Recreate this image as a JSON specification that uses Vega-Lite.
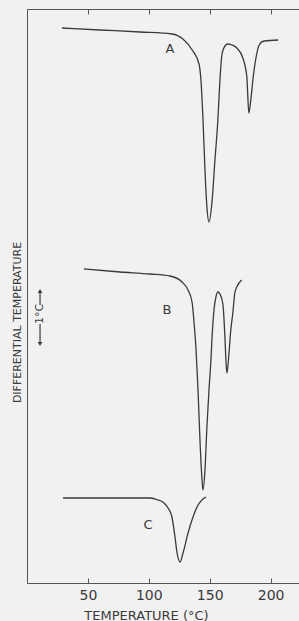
{
  "$schema": "https://vega.github.io/schema/vega-lite/v6.json",
  "width": 272,
  "height": 574,
  "autosize": "none",
  "padding": {"left": 27, "top": 9, "right": 0, "bottom": 38},
  "background": "#f1f1f1",
  "config": {
    "view": {"stroke": null},
    "font": "DejaVu Sans",
    "axis": {"grid": false, "domainColor": "#555", "tickColor": "#555", "labelColor": "#3a3a3a", "titleColor": "#3a3a3a", "titleFontWeight": "normal", "labelFont": "DejaVu Sans", "titleFont": "DejaVu Sans"}
  },
  "datasets": {
    "curves": [
      {"curve": "A", "T": 28.7, "dT": 555}, {"curve": "A", "T": 59.9, "dT": 553}, {"curve": "A", "T": 92.8, "dT": 551}, {"curve": "A", "T": 119.0, "dT": 549},
      {"curve": "A", "T": 128.0, "dT": 544}, {"curve": "A", "T": 136.2, "dT": 532}, {"curve": "A", "T": 141.2, "dT": 519}, {"curve": "A", "T": 142.8, "dT": 503},
      {"curve": "A", "T": 144.5, "dT": 463}, {"curve": "A", "T": 146.1, "dT": 413}, {"curve": "A", "T": 147.7, "dT": 376}, {"curve": "A", "T": 149.4, "dT": 361},
      {"curve": "A", "T": 151.8, "dT": 380}, {"curve": "A", "T": 154.3, "dT": 423}, {"curve": "A", "T": 156.7, "dT": 463}, {"curve": "A", "T": 158.4, "dT": 503},
      {"curve": "A", "T": 160.0, "dT": 528}, {"curve": "A", "T": 162.5, "dT": 537}, {"curve": "A", "T": 164.9, "dT": 539}, {"curve": "A", "T": 168.2, "dT": 538},
      {"curve": "A", "T": 172.3, "dT": 535}, {"curve": "A", "T": 177.2, "dT": 525}, {"curve": "A", "T": 180.5, "dT": 506}, {"curve": "A", "T": 181.3, "dT": 486},
      {"curve": "A", "T": 182.1, "dT": 470}, {"curve": "A", "T": 184.0, "dT": 486}, {"curve": "A", "T": 185.7, "dT": 506}, {"curve": "A", "T": 188.1, "dT": 526},
      {"curve": "A", "T": 190.6, "dT": 538}, {"curve": "A", "T": 194.7, "dT": 542}, {"curve": "A", "T": 206.2, "dT": 543},
      {"curve": "B", "T": 46.8, "dT": 314}, {"curve": "B", "T": 76.4, "dT": 311}, {"curve": "B", "T": 101.0, "dT": 309}, {"curve": "B", "T": 117.4, "dT": 307},
      {"curve": "B", "T": 127.3, "dT": 301}, {"curve": "B", "T": 132.2, "dT": 293}, {"curve": "B", "T": 135.5, "dT": 281}, {"curve": "B", "T": 137.1, "dT": 261},
      {"curve": "B", "T": 138.8, "dT": 233}, {"curve": "B", "T": 140.4, "dT": 193}, {"curve": "B", "T": 142.0, "dT": 143}, {"curve": "B", "T": 143.7, "dT": 103},
      {"curve": "B", "T": 144.5, "dT": 93}, {"curve": "B", "T": 146.1, "dT": 113}, {"curve": "B", "T": 147.7, "dT": 156}, {"curve": "B", "T": 149.4, "dT": 193},
      {"curve": "B", "T": 151.0, "dT": 223}, {"curve": "B", "T": 151.8, "dT": 243}, {"curve": "B", "T": 153.5, "dT": 273}, {"curve": "B", "T": 155.1, "dT": 286},
      {"curve": "B", "T": 156.7, "dT": 291}, {"curve": "B", "T": 158.4, "dT": 289}, {"curve": "B", "T": 160.8, "dT": 279}, {"curve": "B", "T": 162.4, "dT": 248},
      {"curve": "B", "T": 163.3, "dT": 223}, {"curve": "B", "T": 164.1, "dT": 210}, {"curve": "B", "T": 165.7, "dT": 228}, {"curve": "B", "T": 167.3, "dT": 253},
      {"curve": "B", "T": 169.0, "dT": 270}, {"curve": "B", "T": 170.6, "dT": 290}, {"curve": "B", "T": 172.2, "dT": 296}, {"curve": "B", "T": 176.3, "dT": 303},
      {"curve": "C", "T": 29.6, "dT": 85}, {"curve": "C", "T": 101.0, "dT": 85}, {"curve": "C", "T": 107.6, "dT": 83}, {"curve": "C", "T": 112.5, "dT": 80},
      {"curve": "C", "T": 115.8, "dT": 75}, {"curve": "C", "T": 119.0, "dT": 66}, {"curve": "C", "T": 121.5, "dT": 46}, {"curve": "C", "T": 123.2, "dT": 30},
      {"curve": "C", "T": 125.6, "dT": 21}, {"curve": "C", "T": 128.1, "dT": 30}, {"curve": "C", "T": 132.2, "dT": 50}, {"curve": "C", "T": 136.3, "dT": 66},
      {"curve": "C", "T": 140.4, "dT": 78}, {"curve": "C", "T": 144.5, "dT": 84}, {"curve": "C", "T": 147.0, "dT": 86}
    ],
    "labels": [
      {"text": "A", "T": 117.4, "dT": 534},
      {"text": "B", "T": 114.9, "dT": 273},
      {"text": "C", "T": 99.3, "dT": 58}
    ],
    "bar": [
      {"T": 10.7, "y1": 278, "y2": 292},
      {"T": 10.7, "y1": 240, "y2": 259}
    ],
    "arrows": [
      {"T": 10.7, "dT": 292, "dir": "up"},
      {"T": 10.7, "dT": 239, "dir": "down"}
    ],
    "barlabel": [
      {"T": 10.7, "dT": 269, "text": "1°C"}
    ]
  },
  "resolve": {"axis": {"x": "independent"}},
  "layer": [
    {
      "data": {"name": "curves"},
      "mark": {"type": "line", "interpolate": "monotone", "color": "#3a3a3a", "strokeWidth": 1.3},
      "encoding": {
        "x": {"field": "T", "type": "quantitative", "scale": {"domain": [0, 223.3], "nice": false, "zero": false},
          "axis": {"orient": "bottom", "values": [50, 100, 150, 200], "tickSize": -5, "labelPadding": 10, "labelFontSize": 14,
            "title": "TEMPERATURE (°C)", "titleFontSize": 13, "titleX": 119, "titleY": 36, "titleAlign": "center", "titleBaseline": "alphabetic"}},
        "y": {"field": "dT", "type": "quantitative", "scale": {"domain": [0, 574], "nice": false, "zero": false},
          "axis": {"ticks": false, "labels": false, "title": "DIFFERENTIAL TEMPERATURE", "titleFontSize": 11, "titleAngle": 270,
            "titleX": -9.5, "titleY": 313, "titleAlign": "center", "titleBaseline": "middle"}},
        "detail": {"field": "curve"},
        "order": {"field": "T", "type": "quantitative"}
      }
    },
    {
      "data": {"name": "labels"},
      "mark": {"type": "text", "fontSize": 13, "color": "#3a3a3a", "font": "DejaVu Sans"},
      "encoding": {
        "x": {"field": "T", "type": "quantitative",
          "axis": {"orient": "top", "values": [50, 100, 150, 200], "tickSize": -5, "labels": false, "title": null}},
        "y": {"field": "dT", "type": "quantitative"},
        "text": {"field": "text"}
      }
    },
    {
      "data": {"name": "bar"},
      "mark": {"type": "rule", "color": "#3a3a3a", "strokeWidth": 1.2},
      "encoding": {
        "x": {"field": "T", "type": "quantitative", "axis": null},
        "y": {"field": "y1", "type": "quantitative"},
        "y2": {"field": "y2"}
      }
    },
    {
      "data": {"name": "arrows"},
      "mark": {"type": "point", "filled": true, "color": "#3a3a3a", "size": 22, "opacity": 1},
      "encoding": {
        "x": {"field": "T", "type": "quantitative", "axis": null},
        "y": {"field": "dT", "type": "quantitative"},
        "shape": {"field": "dir", "type": "nominal", "scale": {"domain": ["up", "down"], "range": ["triangle-up", "triangle-down"]}, "legend": null}
      }
    },
    {
      "data": {"name": "barlabel"},
      "mark": {"type": "text", "fontSize": 11, "angle": 270, "color": "#3a3a3a", "font": "DejaVu Sans"},
      "encoding": {
        "x": {"field": "T", "type": "quantitative", "axis": null},
        "y": {"field": "dT", "type": "quantitative"},
        "text": {"field": "text"}
      }
    }
  ]
}
